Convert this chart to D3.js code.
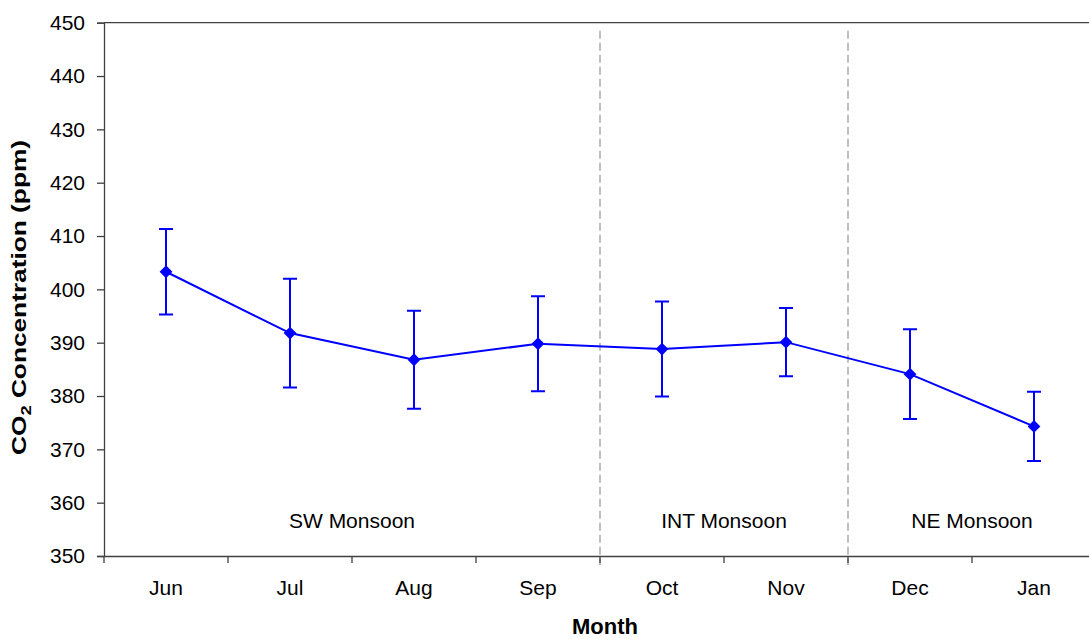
<!DOCTYPE html>
<html>
<head>
<meta charset="utf-8">
<script src="https://cdn.jsdelivr.net/npm/d3@7"></script>
<style>
  html, body { margin: 0; padding: 0; background: #fff; }
  svg { display: block; font-family: "Liberation Sans", Arial, sans-serif; }
</style>
</head>
<body>
<svg id="chart" width="1089" height="639"></svg>
<script>
// Monthly mean CO2 concentration with standard deviation
const months = ["Jun", "Jul", "Aug", "Sep", "Oct", "Nov", "Dec", "Jan"];
const meanCO2 = [403.3, 391.8, 386.8, 389.8, 388.8, 390.1, 384.1, 374.3];
const sdCO2 = [8.0, 10.2, 9.2, 8.9, 8.9, 6.4, 8.4, 6.5];
const yTicks = [350, 360, 370, 380, 390, 400, 410, 420, 430, 440, 450];

// Monsoon seasons: label, first month, last month
const seasons = [
  { name: "SW Monsoon", from: "Jun", to: "Sep" },
  { name: "INT Monsoon", from: "Oct", to: "Nov" },
  { name: "NE Monsoon", from: "Dec", to: "Jan" }
];

const svg = d3.select("#chart");
const plotL = 104, plotR = 1096, plotT = 22.7, plotB = 556;

const x = d3.scaleBand().domain(months).range([plotL, plotR]).padding(0);
const y = d3.scaleLinear().domain([350, 450]).range([plotB, plotT]);

const axisColor = "#404040";
const blue = "#0000ff";

// Season dividers
const dividers = seasons.slice(1).map(s => x(s.from));
svg.append("g").selectAll("line").data(dividers).join("line")
  .attr("x1", d => d).attr("x2", d => d)
  .attr("y1", plotT + 8).attr("y2", plotB + 9)
  .attr("stroke", "#c0c0c0").attr("stroke-width", 2)
  .attr("stroke-dasharray", "8,4");

// Plot frame (top and right edges)
svg.append("path")
  .attr("d", `M${plotL},${plotT}H${plotR}V${plotB}`)
  .attr("fill", "none").attr("stroke", axisColor).attr("stroke-width", 1.3);

// Y axis
const yAxis = d3.axisLeft(y).tickValues(yTicks).tickSize(7).tickPadding(12);
const gy = svg.append("g").attr("transform", `translate(${plotL},0)`).call(yAxis);
gy.select(".domain").attr("stroke", axisColor).attr("stroke-width", 1.3);
gy.selectAll(".tick line").attr("stroke", axisColor).attr("stroke-width", 1.3);
gy.selectAll(".tick text").attr("font-size", 21).attr("fill", "#000")
  .attr("font-family", "Liberation Sans, Arial, sans-serif");

// X axis: ticks on band boundaries, labels centred in bands
const xAxis = d3.axisBottom(x).tickSize(0).tickPadding(24);
const gx = svg.append("g").attr("transform", `translate(0,${plotB})`).call(xAxis);
gx.select(".domain").attr("stroke", axisColor).attr("stroke-width", 1.3);
gx.selectAll(".tick text").attr("font-size", 21).attr("fill", "#000")
  .attr("font-family", "Liberation Sans, Arial, sans-serif");
const bounds = months.map(m => x(m)).concat([x(months[months.length - 1]) + x.bandwidth()]);
svg.append("g").selectAll("line").data(bounds).join("line")
  .attr("x1", d => d).attr("x2", d => d)
  .attr("y1", plotB).attr("y2", plotB + 7)
  .attr("stroke", axisColor).attr("stroke-width", 1.3);

// Season labels
svg.append("g").selectAll("text").data(seasons).join("text")
  .attr("x", d => (x(d.from) + x(d.to) + x.bandwidth()) / 2)
  .attr("y", y(355) - 1)
  .attr("text-anchor", "middle")
  .attr("font-size", 21)
  .text(d => d.name);

// Axis titles
svg.append("text")
  .attr("x", (plotL + plotR) / 2 + 5).attr("y", 634)
  .attr("text-anchor", "middle").attr("font-size", 22).attr("font-weight", "bold")
  .text("Month");

const yTitle = svg.append("text")
  .attr("transform", `translate(26,${(140 + 455) / 2}) rotate(-90)`)
  .attr("text-anchor", "middle").attr("font-size", 20).attr("font-weight", "bold")
  .attr("textLength", 315).attr("lengthAdjust", "spacingAndGlyphs");
yTitle.append("tspan").text("CO");
yTitle.append("tspan").attr("font-size", 14).attr("dy", 5).text("2");
yTitle.append("tspan").attr("dy", -5).text(" Concentration (ppm)");

// Data series
const data = months.map((m, i) => ({ m, mean: meanCO2[i], sd: sdCO2[i] }));
const cx = d => x(d.m) + x.bandwidth() / 2;

const err = svg.append("g").attr("stroke", blue).attr("stroke-width", 2).attr("fill", "none");
err.selectAll("path").data(data).join("path")
  .attr("d", d => {
    const hi = y(d.mean + d.sd), lo = y(d.mean - d.sd), c = cx(d);
    return `M${c},${hi}V${lo}M${c - 7},${hi}H${c + 7}M${c - 7},${lo}H${c + 7}`;
  });

svg.append("path").datum(data)
  .attr("fill", "none").attr("stroke", blue).attr("stroke-width", 2)
  .attr("d", d3.line().x(cx).y(d => y(d.mean)));

const diamond = d3.symbol().type(d3.symbolSquare).size(82);
svg.append("g").selectAll("path").data(data).join("path")
  .attr("transform", d => `translate(${cx(d)},${y(d.mean)}) rotate(45)`)
  .attr("d", diamond)
  .attr("fill", blue);
</script>
</body>
</html>
